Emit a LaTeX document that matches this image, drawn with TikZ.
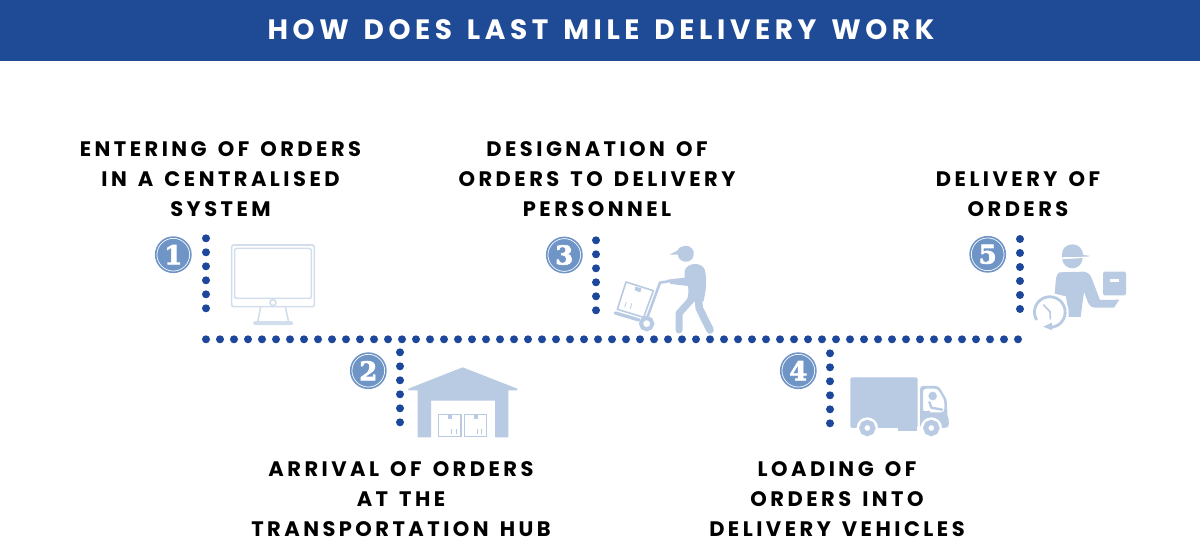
\documentclass[tikz,border=0pt]{standalone}
\usepackage{fontspec}
\setmainfont{Poppins}
\newfontfamily\spaced{Poppins}[LetterSpace=16.5,WordSpace=1.5]
\newfontfamily\titlespaced{Poppins}[LetterSpace=16.5,WordSpace=1.4]
\newfontfamily\digitfont{DejaVu Serif}[FakeBold=2.5]
\definecolor{banner}{HTML}{1F4A96}
\definecolor{dotblue}{HTML}{1D479B}
\definecolor{icon}{HTML}{B9CBE2}
\definecolor{iconline}{HTML}{D2DEEC}
\definecolor{badge}{HTML}{6F94C6}
\tikzset{
  dotline/.style={draw=dotblue,line width=8pt,line cap=round,dash pattern=on 0pt off 14pt},
  steplabel/.style={align=center,font=\spaced\bfseries\fontsize{21}{30}\selectfont,text=black,inner sep=0pt},
  titlelabel/.style={font=\titlespaced\bfseries\fontsize{28}{34}\selectfont,text=white,inner sep=0pt},
  badgering/.style={circle,minimum size=33pt,inner sep=0pt,draw=white,line width=1pt,fill=badge,
    text=white,font=\digitfont\bfseries\fontsize{26}{26}\selectfont},
  badgeouter/.style={draw=badge,line width=1.6pt,fill=none},
  thinicon/.style={draw=iconline,line width=1.6pt,fill=none},
  solidicon/.style={fill=icon,draw=none},
  limb/.style={draw=icon,line cap=round,line join=round},
}
\begin{document}
\begin{tikzpicture}[x=1pt,y=-1pt]
\useasboundingbox (0,0) rectangle (1200,545);
\fill[banner] (0,0) rectangle (1200,61);
\node[titlelabel] (title) at (601,30) {HOW DOES LAST MILE DELIVERY WORK};

% step texts
\node[steplabel] (t1) at (220.5,179) {ENTERING OF ORDERS\\IN A CENTRALISED\\SYSTEM};
\node[steplabel] (t2) at (401,499) {ARRIVAL OF ORDERS\\AT THE\\TRANSPORTATION HUB};
\node[steplabel] (t3) at (597,179) {DESIGNATION OF\\ORDERS TO DELIVERY\\PERSONNEL};
\node[steplabel] (t4) at (837,499) {LOADING OF\\ORDERS INTO\\DELIVERY VEHICLES};
\node[steplabel] (t5) at (1018,194) {DELIVERY OF\\ORDERS};

% badges
\node[badgering] (b1) at (173.3,254.7) {1};
\node[badgering] (b2) at (368.3,370.7) {2};
\node[badgering] (b3) at (564.3,255) {3};
\node[badgering] (b4) at (798.3,370.7) {4};
\node[badgering] (b5) at (987.7,254.3) {5};
\foreach \b in {b1,b2,b3,b4,b5}{\draw[badgeouter] (\b.center) circle[radius=17.6pt];}

% dotted timeline
\coordinate (s1) at (206,238.3);
\coordinate (c1) at (206,322.3);
\coordinate (h1) at (206,339.3);
\coordinate (h5) at (1020,339.3);
\coordinate (s5) at (1020,239);
\coordinate (c5) at (1020,323);
\coordinate (s2) at (400,352.3);
\coordinate (e2) at (400,436.3);
\coordinate (s3) at (596,240.3);
\coordinate (e3) at (596,324.3);
\coordinate (s4) at (830,353.3);
\coordinate (e4) at (830,437.3);
\draw[dotline] (s1) -- (c1);
\draw[dotline] (h1) -- (h5);
\draw[dotline] (s5) -- (c5);
\draw[dotline] (s2) -- (e2);
\draw[dotline] (s3) -- (e3);
\draw[dotline] (s4) -- (e4);

% monitor
\begin{scope}[shift={(140,230)},scale=1/3]
\draw[thinicon,rounded corners=2pt] (275,45) rectangle (523,230);
\draw[thinicon,rounded corners=1.5pt] (284,55) rectangle (514,205);
\draw[thinicon] (399,218) circle[radius=9];
\draw[thinicon] (362,230) -- (353,276);
\draw[thinicon] (436,230) -- (446,276);
\draw[thinicon,fill=iconline,rounded corners=1pt] (342,276) rectangle (457,283);
\end{scope}

% warehouse
\begin{scope}[shift={(340,340)},scale=1/3]
\fill[solidicon] (205,146) -- (368,82) -- (532,146) -- (532,151) -- (505,151) -- (505,292)
  -- (465,292) -- (465,182) -- (273,182) -- (273,292) -- (233,292) -- (233,151) -- (205,151) -- cycle;
\draw[draw=icon,line width=1.1pt] (296,224) rectangle (363,290);
\draw[draw=icon,line width=1.1pt] (374,224) rectangle (440,290);
\fill[icon] (324,226) rectangle (335,238);
\fill[icon] (402,226) rectangle (413,238);
\draw[draw=icon,line width=.8pt] (335,281) -- (335,268) (349,281) -- (349,268);
\draw[draw=icon,line width=.8pt] (411,281) -- (411,268) (425,281) -- (425,268);
\end{scope}

% person with hand cart
\begin{scope}[shift={(540,230)},scale=1/3]
% cap and head
\fill[solidicon] (388,74) -- (412,62) .. controls (418,46) and (450,38) .. (461,64)
  .. controls (466,84) and (450,98) .. (434,95) .. controls (420,92) and (414,84) .. (414,74) -- cycle;
% torso
\fill[solidicon] (434,122) .. controls (442,98) and (482,94) .. (494,118)
  .. controls (502,150) and (498,185) .. (490,215) -- (440,215)
  .. controls (446,190) and (446,185) .. (444,168) -- (392,162) -- (382,149) -- (434,143) -- cycle;
% legs
\draw[limb,line width=7pt] (462,200) -- (417,250) -- (417,300);
\draw[limb,line width=7.6pt] (474,200) -- (478,235) -- (510,300);
% cart handle and frame
\draw[limb,line width=2.6pt] (385,154) -- (360,158) -- (322,262);
% box
\draw[draw=icon,line width=1.6pt,line join=round] (258,156) -- (340,182) -- (311,262) -- (232,238) -- cycle;
\fill[icon] (286,170) -- (304,175) -- (301,187) -- (284,181) -- cycle;
\draw[draw=icon,line width=.8pt] (254,232) -- (259,216) (271,236) -- (275,220);
% platform
\draw[limb,line width=3.4pt] (226,249) -- (297,270);
% wheel
\fill[white] (320,281) circle[radius=20];
\draw[draw=icon,line width=4pt] (320,281) circle[radius=17];
\end{scope}

% truck
\begin{scope}[shift={(770,340)},scale=1/3]
\fill[solidicon,rounded corners=1.5pt] (241,112) rectangle (443,264);
\fill[solidicon] (385,260) rectangle (440,272);
\path[solidicon,even odd rule,rounded corners=3pt]
  (450,138) -- (506,138) -- (530,178) -- (533,235) -- (537,240) -- (537,258) -- (528,264)
  -- (450,264) -- cycle
  (459,146) -- (503,146) -- (523,180) -- (523,217) -- (459,217) -- cycle;
\fill[solidicon] (488,168) circle[radius=13];
\draw[limb,line width=2.4pt] (478,186) -- (484,203) -- (516,209);
\draw[limb,line width=2pt] (459,217) -- (478,215);
\fill[white] (292,264) circle[radius=32];
\fill[white] (484,264) circle[radius=32];
\draw[draw=icon,line width=5pt] (292,264) circle[radius=17];
\draw[draw=icon,line width=5pt] (484,264) circle[radius=17];
\end{scope}

% delivery man
\begin{scope}[shift={(960,225)},scale=1/3]
\fill[solidicon] (306,98) .. controls (304,68) and (320,58) .. (338,58)
  .. controls (356,58) and (368,72) .. (370,90) -- (387,92) -- (385,95) -- (312,96) -- cycle;
\fill[solidicon] (306,103) -- (368,99) .. controls (366,120) and (352,130) .. (338,130)
  .. controls (322,130) and (310,120) .. (306,103) -- cycle;
\fill[solidicon] (298,142) -- (372,140) .. controls (384,142) and (392,150) .. (396,162)
  -- (420,225) -- (478,224) -- (462,248) -- (406,248) .. controls (392,248) and (386,240) .. (380,222)
  -- (372,200) -- (362,276) -- (326,276) -- (318,214) -- (284,206) -- (288,160) .. controls (290,150) and (293,146) .. (298,142) -- cycle;
\fill[solidicon,rounded corners=1.5pt] (429,140) rectangle (498,211);
\fill[white] (449,162) rectangle (476,170);
% clock
\fill[white] (270,261) circle[radius=56];
\draw[draw=icon,line width=2.8pt] (230,285)
  arc[start angle=149,end angle=450,radius=46];
\fill[icon] (250,305) -- (276,293) -- (276,316) -- cycle;
\draw[limb,line width=1.6pt] (251,240) -- (270,260) -- (271,282);
\end{scope}
\end{tikzpicture}
\end{document}
